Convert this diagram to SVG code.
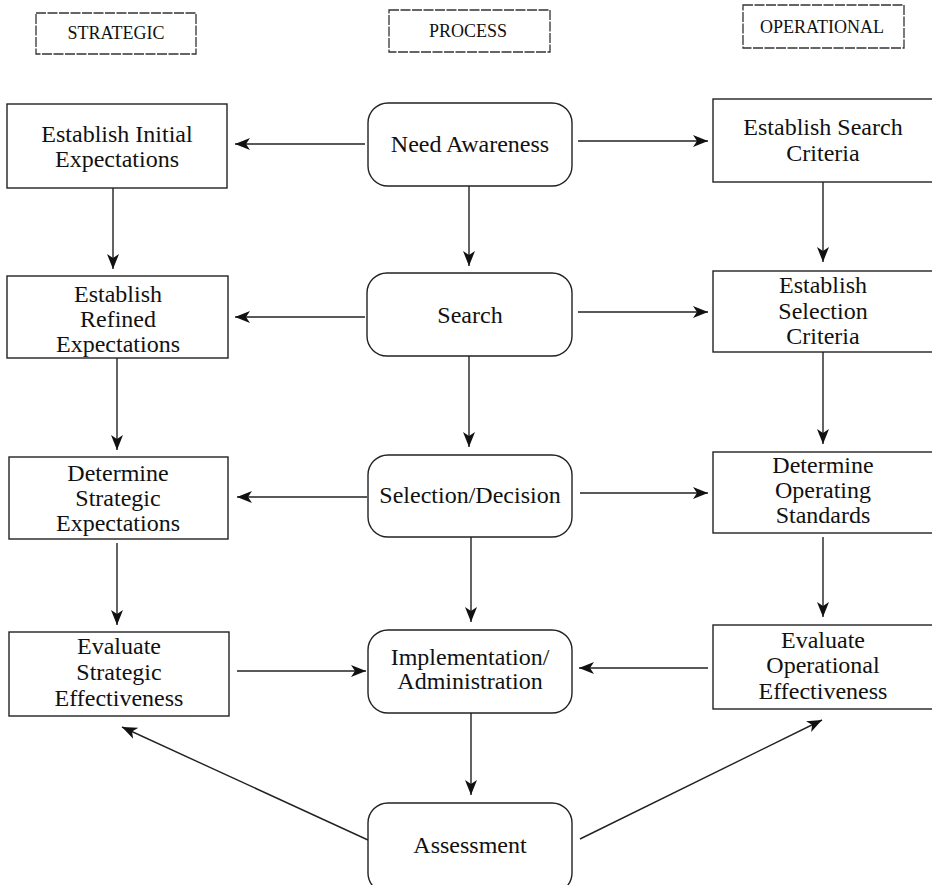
<svg xmlns="http://www.w3.org/2000/svg" width="932" height="885" viewBox="0 0 932 885">
<defs>
<marker id="ah" markerUnits="userSpaceOnUse" markerWidth="18" markerHeight="14" refX="15" refY="7" orient="auto">
<path d="M0,1 L15,7 L0,13 L4,7 z" fill="#111"/>
</marker>
<style>
.box{fill:#fff;stroke:#222;stroke-width:1.4}
.hdr{fill:#fff;stroke:#333;stroke-width:1.3;stroke-dasharray:10 1.5}
.t{font-family:"Liberation Serif","Times New Roman",serif;font-size:24px;fill:#111;text-anchor:middle}
.h{font-family:"Liberation Serif","Times New Roman",serif;font-size:18px;fill:#111;text-anchor:middle}
.c{stroke:#222;stroke-width:1.4;fill:none;marker-end:url(#ah)}
</style>
</defs>
<rect width="932" height="885" fill="#fff"/>

<g id="hdr-strategic"><rect class="hdr" x="36" y="13" width="160" height="41"/><text class="h" x="116" y="39">STRATEGIC</text></g>
<g id="hdr-process"><rect class="hdr" x="389" y="10" width="161" height="42"/><text class="h" x="468" y="37">PROCESS</text></g>
<g id="hdr-operational"><rect class="hdr" x="743" y="5" width="161" height="43"/><text class="h" x="822" y="33">OPERATIONAL</text></g>

<g id="connectors">
<line class="c" x1="365" y1="144" x2="235" y2="144"/>
<line class="c" x1="578" y1="141" x2="708" y2="141"/>
<line class="c" x1="469" y1="186" x2="469" y2="266"/>
<line class="c" x1="113" y1="188" x2="113" y2="269"/>
<line class="c" x1="823" y1="182" x2="823" y2="262"/>
<line class="c" x1="365" y1="317" x2="235" y2="317"/>
<line class="c" x1="578" y1="312" x2="708" y2="312"/>
<line class="c" x1="469" y1="356" x2="469" y2="447"/>
<line class="c" x1="117" y1="358" x2="117" y2="450"/>
<line class="c" x1="823" y1="352" x2="823" y2="444"/>
<line class="c" x1="367" y1="497" x2="237" y2="497"/>
<line class="c" x1="580" y1="493" x2="708" y2="493"/>
<line class="c" x1="471" y1="537" x2="471" y2="622"/>
<line class="c" x1="117" y1="543" x2="117" y2="625"/>
<line class="c" x1="823" y1="537" x2="823" y2="617"/>
<line class="c" x1="237" y1="671" x2="366" y2="671"/>
<line class="c" x1="708" y1="668" x2="579" y2="668"/>
<line class="c" x1="471" y1="713" x2="471" y2="795"/>
<line class="c" x1="368" y1="840" x2="122" y2="727"/>
<line class="c" x1="580" y1="839" x2="822" y2="720"/>
</g>

<g id="n-initial-exp"><rect class="box" x="7" y="104" width="220" height="84"/><text class="t" x="117" y="142">Establish Initial</text><text class="t" x="117" y="167">Expectations</text></g>
<g id="n-refined-exp"><rect class="box" x="7" y="276" width="221" height="82"/><text class="t" x="118" y="302">Establish</text><text class="t" x="118" y="327">Refined</text><text class="t" x="118" y="352">Expectations</text></g>
<g id="n-strategic-exp"><rect class="box" x="9" y="457" width="219" height="82"/><text class="t" x="118" y="481">Determine</text><text class="t" x="118" y="506">Strategic</text><text class="t" x="118" y="531">Expectations</text></g>
<g id="n-eval-strategic"><rect class="box" x="9" y="632" width="220" height="84"/><text class="t" x="119" y="654">Evaluate</text><text class="t" x="119" y="680">Strategic</text><text class="t" x="119" y="706">Effectiveness</text></g>

<g id="n-need"><rect class="box" x="368" y="103" width="204" height="83" rx="20"/><text class="t" x="470" y="152">Need Awareness</text></g>
<g id="n-search"><rect class="box" x="367" y="273" width="205" height="83" rx="20"/><text class="t" x="470" y="323">Search</text></g>
<g id="n-selection"><rect class="box" x="368" y="455" width="204" height="82" rx="20"/><text class="t" x="470" y="503">Selection/Decision</text></g>
<g id="n-implementation"><rect class="box" x="368" y="630" width="204" height="83" rx="20"/><text class="t" x="470" y="665">Implementation/</text><text class="t" x="470" y="689">Administration</text></g>
<g id="n-assessment"><rect class="box" x="368" y="803" width="204" height="90" rx="20"/><text class="t" x="470" y="853">Assessment</text></g>

<g id="n-search-criteria"><rect class="box" x="713" y="99" width="222" height="83"/><text class="t" x="823" y="135">Establish Search</text><text class="t" x="823" y="161">Criteria</text></g>
<g id="n-selection-criteria"><rect class="box" x="713" y="271" width="222" height="81"/><text class="t" x="823" y="293">Establish</text><text class="t" x="823" y="319">Selection</text><text class="t" x="823" y="344">Criteria</text></g>
<g id="n-operating-std"><rect class="box" x="713" y="452" width="222" height="81"/><text class="t" x="823" y="473">Determine</text><text class="t" x="823" y="498">Operating</text><text class="t" x="823" y="523">Standards</text></g>
<g id="n-eval-operational"><rect class="box" x="713" y="625" width="222" height="84"/><text class="t" x="823" y="648">Evaluate</text><text class="t" x="823" y="673">Operational</text><text class="t" x="823" y="699">Effectiveness</text></g>
</svg>
